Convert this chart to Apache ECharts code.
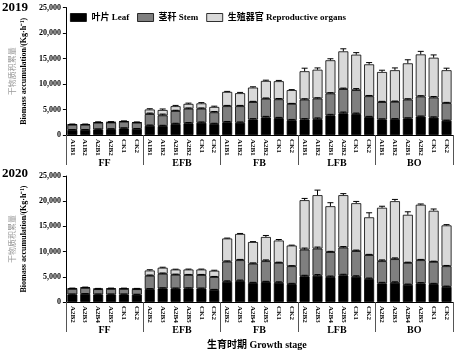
<!DOCTYPE html>
<html><head><meta charset="utf-8">
<script src="https://cdn.jsdelivr.net/npm/echarts@6/dist/echarts.min.js"></script>
<style>html,body{margin:0;padding:0;background:#fff}#c{width:460px;height:355px}</style>
</head><body><div id="c"></div>
<script>
const stages = ['FF','EFB','FB','LFB','BO'];
const treat2019 = ['A1B1','A1B2','A2B1','A2B2','CK1','CK2'];
const treat2020 = ['A2B2','A2B3','A2B4','A2B5','CK1','CK2'];

// 2019 (kg/ha), order: FF x6, EFB x6, FB x6, LFB x6, BO x6
const leaf2019 = [1000,1000,1100,1150,1300,1200, 1800,1750,2150,2300,2400,2150, 2500,2400,3050,3450,3300,2900, 3050,3100,3850,4250,4100,3500, 3050,3100,3250,3600,3400,2800];
const stem2019 = [1000,1000,1300,1300,1300,1200, 2300,2100,2550,2850,2750,2300, 3150,3250,3400,3650,3700,3200, 3900,4050,4300,4750,4700,4100, 3400,3400,3700,3950,3950,3450];
const repro2019 = [100,100,100,100,100,100, 900,1050,950,950,1050,1050, 2800,2550,2850,3500,3550,2700, 5550,5650,6500,7400,6950,6250, 5900,6200,7100,8250,7800,6450];
const leafErr2019 = [60,60,60,60,80,60, 150,150,150,150,150,150, 150,150,150,200,150,150, 150,250,200,250,200,150, 100,100,100,100,150,100];
const stemErr2019 = [60,60,60,60,60,60, 200,250,150,150,150,150, 150,150,150,150,150,100, 150,150,150,200,300,150, 150,150,150,150,200,150];
const totalErr2019 = [50,50,80,60,60,60, 150,200,150,150,150,150, 100,150,150,150,150,100, 600,350,300,500,400,350, 350,450,700,600,550,400];

// 2020
const leaf2020 = [1500,1600,1500,1500,1500,1450, 2550,2700,2650,2700,2650,2400, 4000,4150,3750,3950,3800,3550, 5100,5200,4950,5300,5000,4550, 3700,3800,3400,3700,3550,3000];
const stem2020 = [1100,1200,1050,1100,1100,1100, 2650,2900,2750,2650,2700,2550, 4000,4150,3850,4150,3950,3550, 5300,5400,4950,5500,5100,4750, 4400,4700,4350,4600,4400,4100];
const repro2020 = [100,100,100,100,100,100, 1050,1200,1050,1100,1100,1250, 4600,5200,4300,4800,4450,4100, 9800,10600,9100,10400,9500,7500, 10600,11500,9550,11000,10150,8100];
const leafErr2020 = [60,60,60,60,60,60, 100,100,100,100,100,100, 200,200,150,150,200,150, 200,250,200,200,200,200, 200,200,150,150,150,150];
const stemErr2020 = [60,60,60,60,60,60, 150,150,120,120,120,120, 150,150,150,250,150,100, 300,300,150,200,200,150, 250,250,150,150,150,150];
const totalErr2020 = [60,60,50,60,50,50, 150,100,60,80,80,100, 80,100,80,300,200,80, 350,1000,700,300,350,900, 300,350,600,150,350,150];

const yTicks = [0,5000,10000,15000,20000,25000];

const serif = "'Liberation Serif','Times New Roman','Noto Sans CJK SC',serif";
const cjk = "'Noto Sans CJK SC',sans-serif";
const colors = {leaf:'#000000', stem:'#7f7f7f', repro:'#d9d9d9'};
const names = ['叶片 Leaf','茎秆 Stem','生殖器官 Reproductive organs'];

function cats(treats){ const a=[]; stages.forEach(()=>treats.forEach(t=>a.push(t))); return a; }

function errSeries(idx, tops, errs){
  return {
    type:'custom', xAxisIndex: idx*2, yAxisIndex: idx, z:10, silent:true,
    data: tops.map((v,i)=>[i, v, errs[i]]),
    renderItem: function(params, api){
      const p0 = api.coord([api.value(0), api.value(1)]);
      const p1 = api.coord([api.value(0), api.value(1)+api.value(2)]);
      const hw = 3;
      return {type:'group', children:[
        {type:'line', shape:{x1:p0[0],y1:p0[1],x2:p1[0],y2:p1[1]}, style:{stroke:'#000',lineWidth:1}},
        {type:'line', shape:{x1:p1[0]-hw,y1:p1[1],x2:p1[0]+hw,y2:p1[1]}, style:{stroke:'#000',lineWidth:1}}
      ]};
    }
  };
}

function panel(idx, leaf, stem, repro, le, se, te){
  const t1 = leaf.map((v,i)=>v);
  const t2 = leaf.map((v,i)=>v+stem[i]);
  const t3 = leaf.map((v,i)=>v+stem[i]+repro[i]);
  const stack = 's'+idx;
  const mk = (name, data, color)=>({
    name, type:'bar', stack, xAxisIndex: idx*2, yAxisIndex: idx, data, barWidth:10,
    itemStyle:{color, borderColor:'#000', borderWidth:0.8}
  });
  return [
    mk(names[0], leaf, colors.leaf),
    mk(names[1], stem, colors.stem),
    mk(names[2], repro, colors.repro),
    errSeries(idx, t1, le), errSeries(idx, t2, se), errSeries(idx, t3, te)
  ];
}

const grids = [
  {left:59, right:7, top:7.5, height:127.5},
  {left:59, right:7, top:176, height:126}
];

function xAxes(gi, treats){
  return [
    {type:'category', gridIndex:gi, data:cats(treats), axisLine:{lineStyle:{color:'#000',width:1}},
     axisTick:{show:false},
     axisLabel:{interval:0, rotate:-90, fontFamily:serif, fontWeight:'bold', fontSize:7, color:'#000', margin:4}},
    {type:'category', gridIndex:gi, data:stages, position:'bottom',
     axisLine:{show:true, lineStyle:{color:'#000',width:1}},
     axisTick:{show:true, interval:0, length:30, lineStyle:{color:'#555',width:1}},
     axisLabel:{interval:0, fontFamily:serif, fontWeight:'bold', fontSize:10, color:'#000', margin:23}}
  ];
}

function yAxis(gi){
  return {type:'value', gridIndex:gi, min:yTicks[0], max:yTicks[yTicks.length-1], interval:yTicks[1]-yTicks[0],
    axisLine:{show:true, lineStyle:{color:'#000',width:1}},
    axisTick:{show:true, length:3, lineStyle:{color:'#000'}},
    splitLine:{show:false},
    axisLabel:{fontFamily:serif, fontWeight:'bold', fontSize:8, color:'#000', margin:5},
    name:'{cn|干物质积累量}\n{en|Biomass accumulation/(Kg·h⁻¹)}', nameLocation:'middle', nameGap:27, nameRotate:90,
    nameTextStyle:{rich:{
      cn:{fontFamily:cjk, fontSize:8, color:'#9a9a9a', lineHeight:12},
      en:{fontFamily:serif, fontSize:8, fontWeight:'bold', color:'#000', lineHeight:12}
    }}
  };
}

const chart = echarts.init(document.getElementById('c'), null, {renderer:'canvas'});
chart.setOption({
  animation:false,
  backgroundColor:'#fff',
  grid: grids,
  legend:{data:names, left:65, top:8, itemWidth:16, itemHeight:8, itemGap:8, selectedMode:false,
    icon:'rect',
    textStyle:{fontFamily:serif, fontWeight:'bold', fontSize:9, color:'#000'},
    itemStyle:{borderColor:'#000', borderWidth:0.8}},
  xAxis: [...xAxes(0, treat2019), ...xAxes(1, treat2020)],
  yAxis: [yAxis(0), yAxis(1)],
  series: [
    ...panel(0, leaf2019, stem2019, repro2019, leafErr2019, stemErr2019, totalErr2019),
    ...panel(1, leaf2020, stem2020, repro2020, leafErr2020, stemErr2020, totalErr2020)
  ],
  graphic:[
    {type:'text', left:2, top:1, style:{text:'2019', fontFamily:serif, fontWeight:'bold', fontSize:13, fill:'#000'}},
    {type:'text', left:2, top:167, style:{text:'2020', fontFamily:serif, fontWeight:'bold', fontSize:13, fill:'#000'}},
    {type:'text', left:207, top:340, style:{text:'生育时期 Growth stage', fontFamily:serif, fontWeight:'bold', fontSize:10, fill:'#000'}}
  ]
});
</script></body></html>
